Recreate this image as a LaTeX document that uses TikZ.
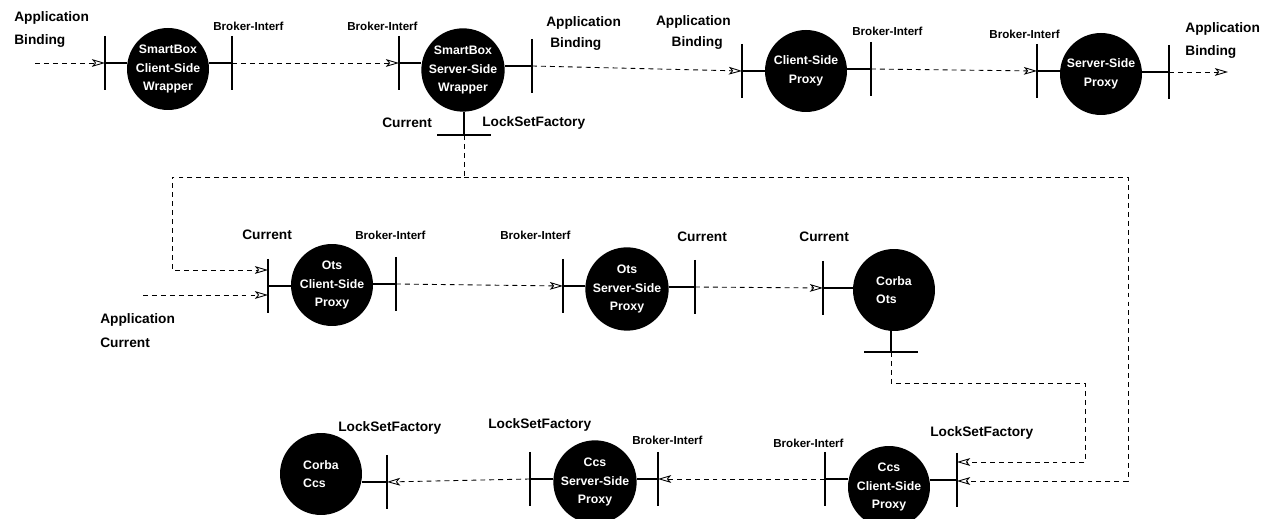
\documentclass[tikz,border=0pt]{standalone}
\usepackage{fontspec}
\setmainfont{Liberation Sans}
\usepackage{tikz}
\usetikzlibrary{arrows.meta,calc}

\begin{document}
\begin{tikzpicture}[x=0.02cm, y=-0.02cm,
    comp/.style={circle, fill=black, text=white, minimum size=1.64cm,
      inner sep=0pt, align=center, font=\fontsize{7}{10.5}\selectfont\bfseries},
    port/.style={line width=1.1pt},
    conn/.style={line width=0.5pt, dash pattern=on 2.8pt off 2.3pt,
      -{Stealth[open, length=7.5pt, width=4.4pt, inset=1.8pt]}},
    lbl/.style={font=\fontsize{7.8}{9}\selectfont\bfseries, inner sep=0pt},
    brk/.style={font=\fontsize{6.6}{8}\selectfont\bfseries, inner sep=0pt}]
  \useasboundingbox (0,0) rectangle (1269,519);

  % components
  \node[comp] (sbc) at (168,69) {SmartBox\\Client-Side\\Wrapper};
  \node[comp] (sbs) at (463,70) {SmartBox\\Server-Side\\Wrapper};
  \node[comp] (csp) at (806,71) {Client-Side\\Proxy};
  \node[comp] (ssp) at (1101,74) {Server-Side\\Proxy};
  \node[comp] (ocp) at (332,285) {Ots\\Client-Side\\Proxy};
  \node[comp] (osp) at (627,289) {Ots\\Server-Side\\Proxy};
  \node[comp, align=left] (cot) at (894,290) {Corba\\Ots};
  \node[comp] (ccp) at (889,487) {Ccs\\Client-Side\\Proxy};
  \node[comp] (css) at (595,482) {Ccs\\Server-Side\\Proxy};
  \node[comp, align=left] (cco) at (321,474) {Corba\\Ccs};

  % interfaces
  \coordinate (sbcL) at (105,63);
  \coordinate (sbcR) at (232,63);
  \coordinate (sbsL) at (399,63);
  \coordinate (sbsR) at (532,66);
  \coordinate (sbsB) at (464,135);
  \coordinate (cspL) at (742,71);
  \coordinate (cspR) at (871,69);
  \coordinate (sspL) at (1037,71);
  \coordinate (sspR) at (1169,72);
  \coordinate (ocpL) at (268,286);
  \coordinate (ocpR) at (396,284);
  \coordinate (ospL) at (563,286);
  \coordinate (ospR) at (695,287);
  \coordinate (cotL) at (823,288);
  \coordinate (cotB) at (891,352);
  \coordinate (ccpL) at (825,479);
  \coordinate (ccpR) at (957,480);
  \coordinate (cssL) at (530,479);
  \coordinate (cssR) at (658,479);
  \coordinate (ccoR) at (387,482);

  \foreach \p/\c/\s in {sbcL/sbc/west, sbcR/sbc/east, sbsL/sbs/west,
      sbsR/sbs/east, cspL/csp/west, cspR/csp/east, sspL/ssp/west,
      sspR/ssp/east, ocpL/ocp/west, ocpR/ocp/east, ospL/osp/west,
      ospR/osp/east, cotL/cot/west, ccpL/ccp/west, ccpR/ccp/east,
      cssL/css/west, cssR/css/east, ccoR/cco/east}
    \draw[port] (\p) -- (\p -| \c.\s) (\p) ++(0,-27) -- ++(0,54);
  \draw[port] (sbsB) -- (sbsB |- sbs.south) (sbsB) ++(-27,0) -- ++(54,0);
  \draw[port] (cotB) -- (cotB |- cot.south) (cotB) ++(-27,0) -- ++(54,0);

  % connectors
  \coordinate (inSB) at (35,63);
  \coordinate (outSB) at (1228,72);
  \coordinate (inAC) at (143,295);
  \coordinate (tl) at (172,177);
  \coordinate (tr) at (1128,481);
  \coordinate (cr) at (1085,383);
  \draw[conn] (inSB) -- (sbcL);
  \draw[conn] (sbcR) -- (sbsL);
  \draw[conn] (sbsR) -- (cspL);
  \draw[conn] (cspR) -- (sspL);
  \draw[conn] (sspR) -- (outSB);
  \draw[conn] (ocpR) -- (ospL);
  \draw[conn] (ospR) -- (cotL);
  \draw[conn] (ccpL) -- (cssR);
  \draw[conn] (cssL) -- (ccoR);
  \draw[conn] (inAC) -- (inAC -| ocpL);
  \draw[conn] (sbsB) |- (tl) |- ($(ocpL)+(0,-16)$);
  \draw[conn] (sbsB |- tl) -| (tr) -- (tr -| ccpR);
  \draw[conn] (cotB) |- (cr) |- ($(ccpR)+(0,-18)$);

  % labels
  \node[lbl, anchor=west] (sbcApp) at (14,18) {Application};
  \node[lbl, anchor=west] (sbcBnd) at (14,41) {Binding};
  \node[brk, anchor=west] (sbcBrk) at (213,26) {Broker-Interf};
  \node[brk, anchor=west] (sbsBrk) at (347,26) {Broker-Interf};
  \node[lbl, anchor=west] (sbsApp) at (546,23) {Application};
  \node[lbl, anchor=west] (sbsBnd) at (550,44) {Binding};
  \node[lbl, anchor=west] (sbsCur) at (382,123) {Current};
  \node[lbl, anchor=west] (sbsLsf) at (482,123) {LockSetFactory};
  \node[lbl, anchor=east] (cspApp) at (731,22) {Application};
  \node[lbl, anchor=east] (cspBnd) at (723,43) {Binding};
  \node[brk, anchor=west] (cspBrk) at (852,31) {Broker-Interf};
  \node[brk, anchor=east] (sspBrk) at (1060,34) {Broker-Interf};
  \node[lbl, anchor=west] (sspApp) at (1185,29) {Application};
  \node[lbl, anchor=west] (sspBnd) at (1185,52) {Binding};
  \node[lbl, anchor=west] (ocpCur) at (242,235) {Current};
  \node[brk, anchor=west] (ocpBrk) at (355,235) {Broker-Interf};
  \node[lbl, anchor=west] (inApp) at (100,320) {Application};
  \node[lbl, anchor=west] (inCur) at (100,343) {Current};
  \node[brk, anchor=west] (ospBrk) at (500,235) {Broker-Interf};
  \node[lbl, anchor=west] (ospCur) at (677,237) {Current};
  \node[lbl, anchor=west] (cotCur) at (799,237) {Current};
  \node[lbl, anchor=west] (ccoLsf) at (338,428) {LockSetFactory};
  \node[lbl, anchor=west] (cssLsf) at (488,425) {LockSetFactory};
  \node[brk, anchor=west] (cssBrk) at (632,440) {Broker-Interf};
  \node[brk, anchor=west] (ccpBrk) at (773,443) {Broker-Interf};
  \node[lbl, anchor=west] (ccpLsf) at (930,433) {LockSetFactory};
\end{tikzpicture}
\end{document}
